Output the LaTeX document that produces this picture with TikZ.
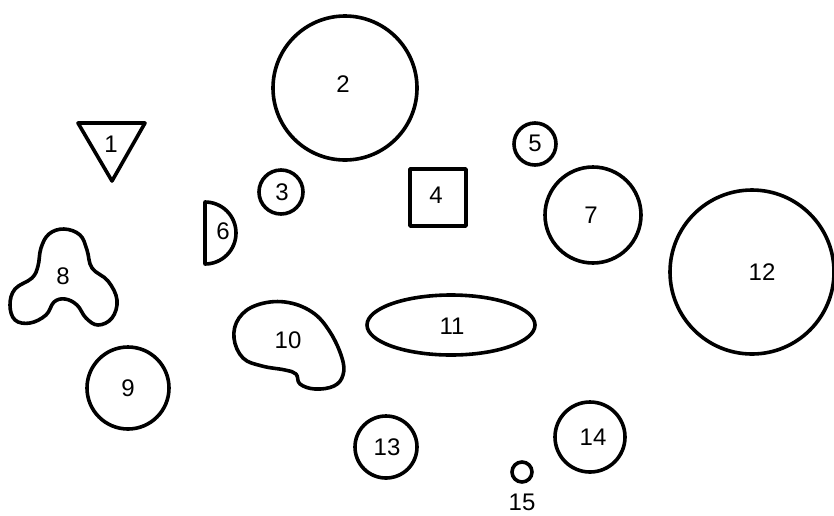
\documentclass[tikz,border=0pt]{standalone}
\usepackage{fontspec}
\setmainfont{Liberation Sans}
\begin{document}
\begin{tikzpicture}[x=1pt,y=-1pt,
  shp/.style={draw=black,line width=3.6pt,line join=round},
  lbl/.style={font=\fontsize{24}{26}\selectfont,inner sep=0pt}]
\useasboundingbox (0,0) rectangle (834,515);
% 1 triangle
\draw[shp] (78,123) -- (145,123) -- (112,181) -- cycle;
\node[lbl] (l1) at (111,144) {1};
% 2
\draw[shp] (345,88) circle (72);
\node[lbl] (l2) at (343,84) {2};
% 3
\draw[shp] (281,192) circle (22);
\node[lbl] (l3) at (282,192) {3};
% 4
\draw[shp] (410,169) rectangle (466,226);
\node[lbl] (l4) at (436,195) {4};
% 5
\draw[shp] (535,144) circle (21);
\node[lbl] (l5) at (535,143) {5};
% 6
\draw[shp] (205,202) arc[start angle=-90,end angle=90,radius=31] -- cycle;
\node[lbl] (l6) at (223,231) {6};
% 7
\draw[shp] (593,215) circle (48);
\node[lbl] (l7) at (591,215) {7};
% 8
\draw[shp] plot[smooth cycle,tension=0.65] coordinates {
 (64,229) (80,235) (87,250) (92,268) (108,281) (117,300) (112,318) (98,325)
 (86,318) (77,305) (65,299) (54,302) (46,315) (30,323) (15,320) (10,305)
 (15,289) (32,278) (38,266) (41,248) (49,234)};
\node[lbl] (l8) at (63,276) {8};
% 9
\draw[shp] (128,388) circle (41);
\node[lbl] (l9) at (128,388) {9};
% 10
\draw[shp] plot[smooth cycle,tension=0.65] coordinates {
 (285,302) (312,312) (330,332) (342,358) (343,375) (334,386) (315,389)
 (300,384) (296,374) (285,370) (262,366) (243,358) (234,338) (239,318) (257,305)};
\node[lbl] (l10) at (288,340) {10};
% 11
\draw[shp] (451,325) ellipse [x radius=84,y radius=30];
\node[lbl] (l11) at (452,326) {11};
% 12
\draw[shp] (752,272) circle (82);
\node[lbl] (l12) at (762,272) {12};
% 13
\draw[shp] (386,447) circle (31);
\node[lbl] (l13) at (387,447) {13};
% 14
\draw[shp] (590,437) circle (35);
\node[lbl] (l14) at (593,437) {14};
% 15
\draw[shp] (522,472) circle (10);
\node[lbl] (l15) at (522,502) {15};
\end{tikzpicture}
\end{document}
